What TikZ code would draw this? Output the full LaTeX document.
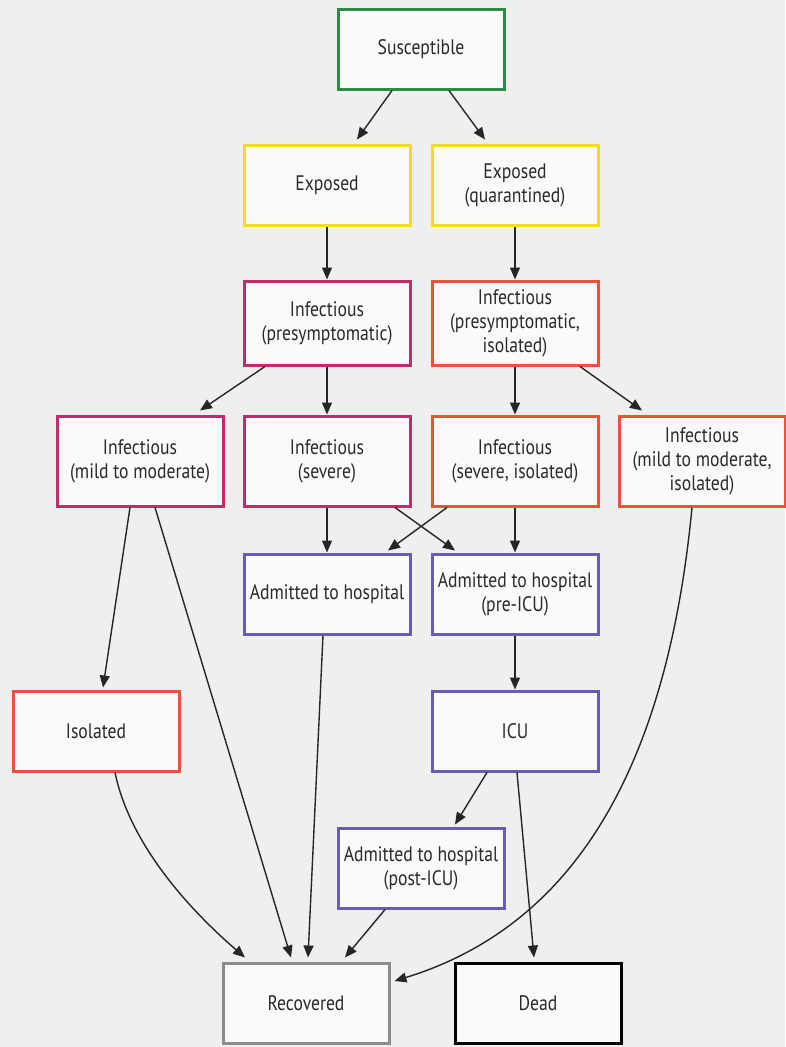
\documentclass[tikz,border=0pt]{standalone}
\usepackage{fontspec}
\setmainfont[FakeStretch=0.84]{PT Sans}
\usepackage{tikz}
\usetikzlibrary{arrows.meta,calc,positioning}
\definecolor{bggray}{HTML}{EFEFEF}
\definecolor{boxfill}{HTML}{FAFAFA}
\definecolor{txtgray}{HTML}{2A2A2A}
\definecolor{cgreen}{HTML}{2E8B45}
\definecolor{cyellow}{HTML}{EEDD22}
\definecolor{cmagenta}{HTML}{C8286E}
\definecolor{corange}{HTML}{E8533A}
\definecolor{cpurple}{HTML}{6A5BB4}
\definecolor{cgrey}{HTML}{8C8C8C}
\tikzset{>={Triangle[length=12pt,width=10pt]}}
\tikzset{
  state/.style={draw, line width=3pt, fill=boxfill, text=txtgray,
    minimum width=166pt, minimum height=80pt, inner sep=2pt,
    align=center, font=\fontsize{21}{24}\selectfont},
  flow/.style={->, line width=1.4pt, draw=black!85}
}

\begin{document}
\begin{tikzpicture}[x=1pt,y=-1pt]
  \fill[bggray] (0,0) rectangle (785,1047);
  \useasboundingbox (0,0) rectangle (785,1047);
  % compartments
  \node[state, draw=cgreen] (S) at (421,49) {Susceptible};
  \node[state, draw=cyellow] (E) at (327,185) {Exposed};
  \node[state, draw=cyellow] (Eq) at (515,185) {Exposed\\(quarantined)};
  \node[state, draw=cmagenta, minimum height=84pt] (Ip) at (327,323) {Infectious\\(presymptomatic)};
  \node[state, draw=corange, minimum height=84pt] (Ipi) at (515,323) {Infectious\\(presymptomatic,\\isolated)};
  \node[state, draw=cmagenta, minimum height=90pt] (Im) at (140,461) {Infectious\\(mild to moderate)};
  \node[state, draw=cmagenta, minimum height=90pt] (Is) at (327,461) {Infectious\\(severe)};
  \node[state, draw=corange, minimum height=90pt] (Isi) at (515,461) {Infectious\\(severe, isolated)};
  \node[state, draw=corange, minimum height=90pt] (Imi) at (702,461) {Infectious\\(mild to moderate,\\isolated)};
  \node[state, draw=cpurple] (H) at (327,594) {Admitted to hospital};
  \node[state, draw=cpurple] (Hpre) at (515,594) {Admitted to hospital\\(pre-ICU)};
  \node[state, draw=corange] (Iso) at (96,731) {Isolated};
  \node[state, draw=cpurple] (ICU) at (515,731) {ICU};
  \node[state, draw=cpurple] (Hpost) at (421,868) {Admitted to hospital\\(post-ICU)};
  \node[state, draw=cgrey] (R) at (306,1003) {Recovered};
  \node[state, draw=black] (D) at (538,1003) {Dead};
  % transitions
  \draw[flow] ($(S.south)+(-29,0)$) -- ($(E.north)+(30,-4)$);
  \draw[flow] ($(S.south)+(28,0)$) -- ($(Eq.north)+(-30,-4)$);
  \draw[flow] (E) -- (Ip);
  \draw[flow] (Eq) -- (Ipi);
  \draw[flow] ($(Ip.south)+(-62,0)$) -- ($(Im.north)+(60,-4)$);
  \draw[flow] (Ip) -- (Is);
  \draw[flow] (Ipi) -- (Isi);
  \draw[flow] ($(Ipi.south)+(65,0)$) -- ($(Imi.north)+(-60,-4)$);
  \draw[flow] (Is) -- (H);
  \draw[flow] ($(Is.south)+(68,0)$) -- ($(Hpre.north)+(-60,-2)$);
  \draw[flow] ($(Isi.south)+(-68,0)$) -- ($(H.north)+(61,-2)$);
  \draw[flow] (Isi) -- (Hpre);
  \draw[flow] ($(Im.south)+(-10,0)$) -- ($(Iso.north)+(7,-2)$);
  \draw[flow] ($(Im.south)+(15,0)$) -- ($(R.north)+(-15,-4)$);
  \draw[flow] ($(H.south)+(-4,0)$) -- ($(R.north)+(2,-4)$);
  \draw[flow] (Hpre) -- (ICU);
  \draw[flow] ($(ICU.south)+(-28,0)$) -- ($(Hpost.north)+(34,-2)$);
  \draw[flow] ($(ICU.south)+(2,0)$) -- ($(D.north)+(-4,-4)$);
  \draw[flow] ($(Hpost.south)+(-36,0)$) -- ($(R.north)+(39,-4)$);
  \draw[flow] ($(Iso.south)+(19,0)$) .. controls (130,845) and (190,910) .. ($(R.north)+(-61,-4)$);
  \draw[flow] ($(Imi.south)+(-10,0)$) .. controls (665,790) and (560,930) .. ($(R.east)+(4,-22)$);
\end{tikzpicture}
\end{document}
